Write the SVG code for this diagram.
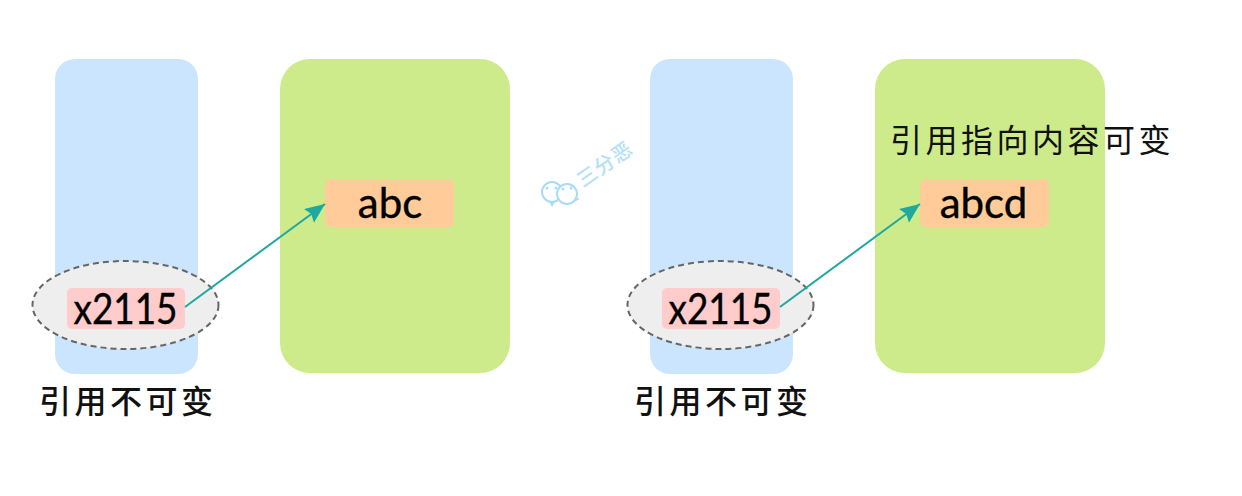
<svg xmlns="http://www.w3.org/2000/svg" width="1242" height="496" viewBox="0 0 1242 496">
<style>
.var{fill:#cce5ff}
.obj{fill:#cdeb8b}
.val{fill:#ffcc99}
.ell{fill:#eeeeee;stroke:#666666;stroke-width:2;stroke-dasharray:6 4}
.ref{fill:#ffcccc}
.t{font-family:"Lato","DejaVu Sans",sans-serif;fill:#000;text-anchor:middle;stroke:#000;stroke-width:.4}
.cn{font-family:"Noto Sans CJK SC",sans-serif;fill:#111;font-size:32px;letter-spacing:3.500px}
.b{font-weight:500}
.arrow{fill:none;stroke:#1fa8a0;stroke-width:2}
.wm{fill:#fff;stroke:#a9dcf5;stroke-width:2}
.wd{fill:#a9dcf5}
</style>
<defs>
<marker id="ah" markerUnits="userSpaceOnUse" markerWidth="22" markerHeight="18" refX="20" refY="8.500" orient="auto">
<path d="M0 0L20 8.500L0 17L3 8.500Z" fill="#1fa8a0"/>
</marker>
</defs>
<rect width="1242" height="496" fill="#fff"/>
<g id="left-var"><rect class="var" x="55" y="59" width="143" height="315" rx="20"/></g>
<g id="left-heap"><rect class="obj" x="280" y="59" width="230" height="314" rx="30"/></g>
<g id="left-value"><rect class="val" x="325" y="179" width="129" height="48" rx="6"/><text class="t" x="390" y="218" font-size="42">abc</text></g>
<g id="left-ref"><ellipse class="ell" cx="125.500" cy="305" rx="93" ry="44"/><rect class="ref" x="67" y="288" width="118" height="41" rx="5"/><text class="t" x="125.500" y="324" font-size="42" textLength="104" lengthAdjust="spacingAndGlyphs">x2115</text></g>
<g id="left-label"><text class="cn b" x="39" y="413">引用不可变</text></g>
<g id="right-var"><rect class="var" x="650" y="59" width="143" height="315" rx="20"/></g>
<g id="right-heap"><rect class="obj" x="875" y="59" width="230" height="314" rx="30"/></g>
<g id="right-value"><rect class="val" x="920" y="179" width="129" height="48" rx="6"/><text class="t" x="983.500" y="218" font-size="42">abcd</text></g>
<g id="right-ref"><ellipse class="ell" cx="720.500" cy="305" rx="93" ry="44"/><rect class="ref" x="662" y="288" width="118" height="41" rx="5"/><text class="t" x="720.500" y="324" font-size="42" textLength="104" lengthAdjust="spacingAndGlyphs">x2115</text></g>
<g id="right-label"><text class="cn b" x="634" y="413">引用不可变</text></g>
<g id="right-note"><text class="cn" x="890" y="152">引用指向内容可变</text></g>
<g id="connectors">
<path class="arrow" d="M185 307L325 204" marker-end="url(#ah)"/>
<path class="arrow" d="M780 307L920 204" marker-end="url(#ah)"/>
</g>
<g id="watermark">
<path class="wd" d="M548 200L552 207L556 200Z"/>
<circle class="wm" cx="552" cy="192" r="10"/>
<path class="wd" d="M574 197L580 199L574 202Z"/>
<circle class="wm" cx="567" cy="194" r="10"/>
<circle class="wd" cx="547" cy="188" r="1.500"/><circle class="wd" cx="556" cy="188" r="1.500"/>
<circle class="wd" cx="563" cy="189" r="1.500"/><circle class="wd" cx="571" cy="188" r="1.500"/>
<text transform="translate(583 188) rotate(-35)" font-family="Noto Sans CJK SC,sans-serif" font-size="20" font-weight="500" letter-spacing="1" fill="#b5e0f7">三分恶</text>
</g>
</svg>
